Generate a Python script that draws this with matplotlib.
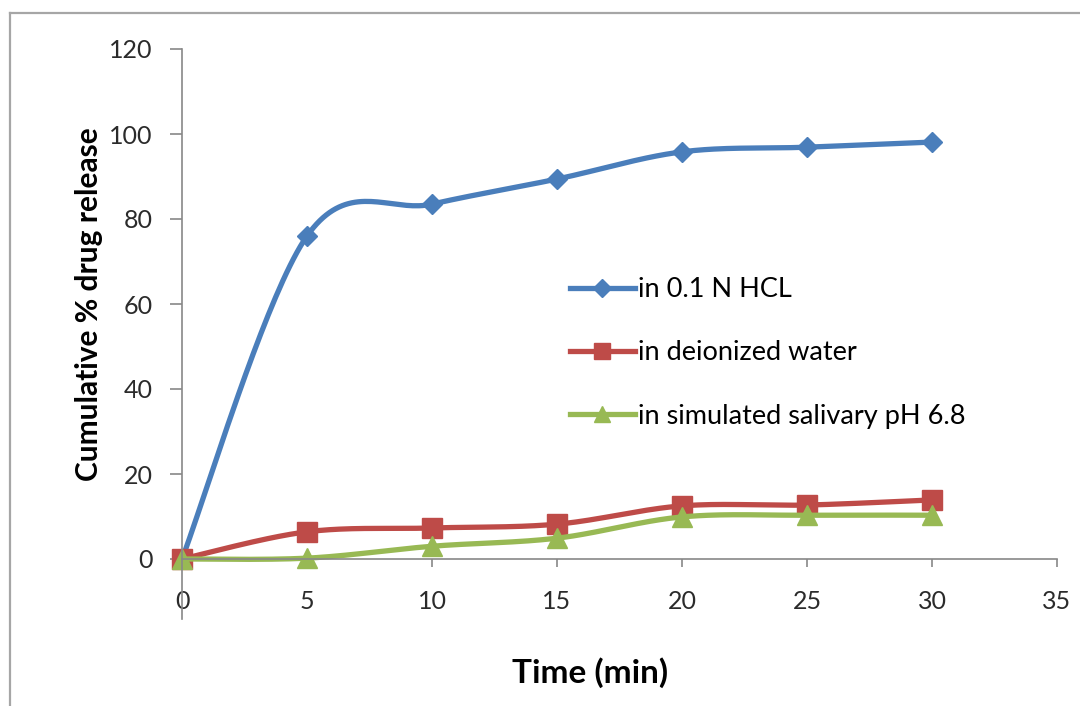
import numpy as np
import matplotlib
matplotlib.use("Agg")
import matplotlib.pyplot as plt
from matplotlib.lines import Line2D

plt.rcParams['font.family'] = ['Lato', 'DejaVu Sans']

# sampling times (min)
time_min = [0, 5, 10, 15, 20, 25, 30]
# cumulative % drug release
release_hcl = [0, 76.0, 83.5, 89.4, 95.8, 96.9, 98.1]
release_water = [0, 6.4, 7.3, 8.2, 12.5, 12.7, 13.9]
release_saliva = [0, 0.2, 3.0, 4.9, 9.9, 10.3, 10.3]

labels = ["in 0.1 N HCL", "in deionized water", "in simulated salivary pH 6.8"]
colors = ["#4A7EBB", "#BE4B48", "#98B954"]
markers = ["D", "s", "^"]
msizes = [10.5, 14, 14]


def smooth(xs, ys, n=40):
    # excel-like smoothed line: catmull-rom as cubic bezier segments
    p = np.column_stack([xs, ys]).astype(float)
    p_ext = np.vstack([p[0], p, p[-1]])
    t = np.linspace(0, 1, n)[:, None]
    out = []
    for i in range(len(p) - 1):
        p0, p1, p2, p3 = p_ext[i], p_ext[i + 1], p_ext[i + 2], p_ext[i + 3]
        c1 = p1 + (p2 - p0) / 6
        c2 = p2 - (p3 - p1) / 6
        seg = ((1 - t) ** 3) * p1 + 3 * ((1 - t) ** 2) * t * c1 + 3 * (1 - t) * t ** 2 * c2 + t ** 3 * p2
        out.append(seg if i == 0 else seg[1:])
    out = np.vstack(out)
    return out[:, 0], out[:, 1]


fig = plt.figure(figsize=(10.8, 7.06), dpi=100)
ax = fig.add_axes([182 / 1080, 1 - 559 / 706, 875 / 1080, 510 / 706])

handles = []
for ys, c, m, ms, lab in zip([release_hcl, release_water, release_saliva], colors, markers, msizes, labels):
    sx, sy = smooth(time_min, ys)
    ax.plot(sx, sy, color=c, lw=3.8, solid_capstyle='round', clip_on=False)
    ax.plot(time_min, ys, linestyle='none', marker=m, ms=ms, color=c, mec=c, clip_on=False)
    handles.append(Line2D([], [], color=c, lw=3.8, marker=m, ms=ms * 0.85, mec=c, label=lab))

ax.set_xlim(0, 35)
ax.set_ylim(0, 120)
ax.set_xticks(range(0, 36, 5))
ax.set_yticks(range(0, 121, 20))

axis_grey = "#888888"
for s in ['top', 'right']:
    ax.spines[s].set_visible(False)
ax.spines['left'].set_color(axis_grey)
ax.spines['bottom'].set_color(axis_grey)
ax.spines['left'].set_linewidth(1.2)
ax.spines['bottom'].set_linewidth(1.2)
ax.spines['left'].set_bounds(-14, 120)

ax.tick_params(axis='y', length=9, width=1.2, color=axis_grey, pad=12, labelsize=18, labelcolor='#2b2b2b')
ax.tick_params(axis='x', length=6, width=1.2, color=axis_grey, pad=16, labelsize=18, labelcolor='#2b2b2b')

ax.set_xlabel("Time (min)", fontsize=24, fontweight='bold')
ax.set_ylabel("Cumulative % drug release", fontsize=21.5, fontweight='bold')
ax.xaxis.set_label_coords(0.466, -0.192)
ax.xaxis.label.set_va('top')
ax.yaxis.set_label_coords(-0.09, 0.5)

ax.legend(handles=handles, loc='center left', bbox_to_anchor=(0.443, 0.404),
          frameon=False, fontsize=19.5, handlelength=2.4, handletextpad=0.12,
          labelspacing=1.41, borderpad=0, borderaxespad=0)

# chart area frame (left and top edges visible in the crop)
frame_c = "#A6A6A6"
fig.add_artist(Line2D([10 / 1080, 10 / 1080], [0, 1 - 13 / 706], transform=fig.transFigure, color=frame_c, lw=1.6))
fig.add_artist(Line2D([10 / 1080, 1], [1 - 13 / 706, 1 - 13 / 706], transform=fig.transFigure, color=frame_c, lw=1.6))

fig.savefig("out.png", dpi=100)
